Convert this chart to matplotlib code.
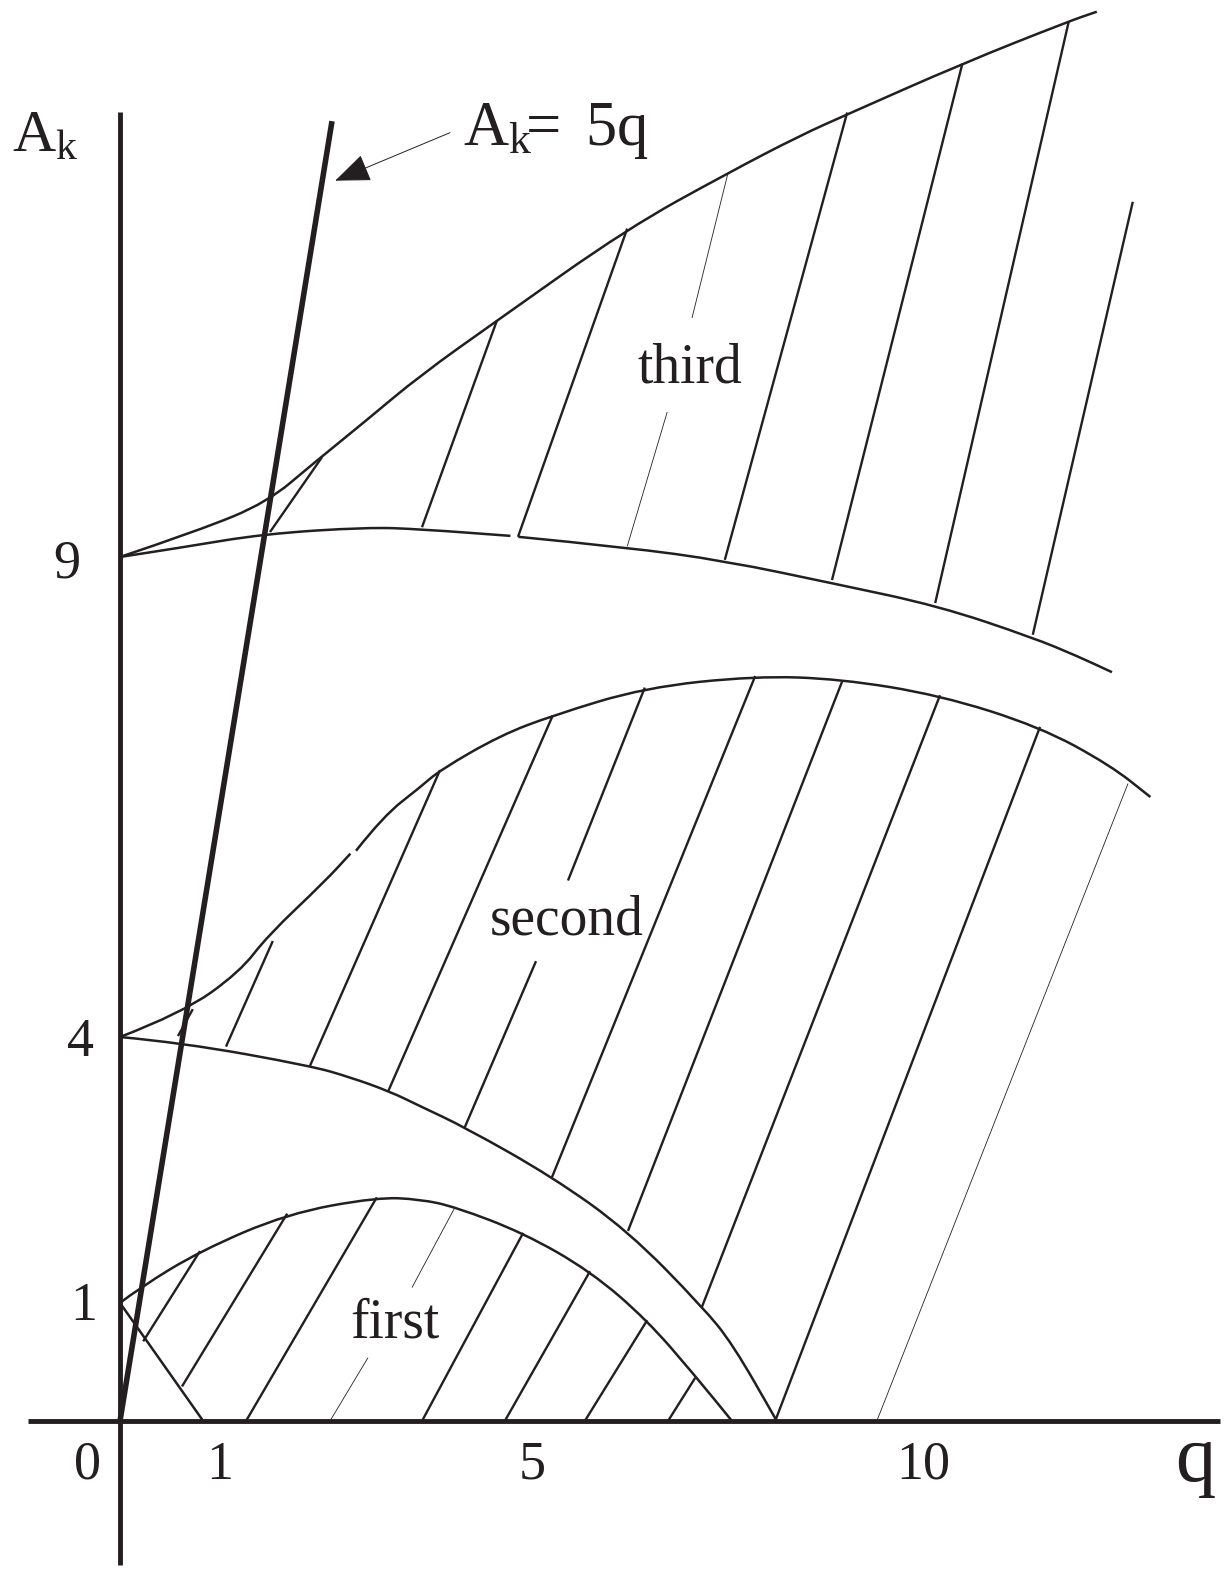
import matplotlib
matplotlib.use("Agg")
import matplotlib.pyplot as plt
from matplotlib.collections import LineCollection
from matplotlib.path import Path
from matplotlib.patches import PathPatch

plt.rcParams['font.family'] = ['Liberation Serif', 'DejaVu Serif']
plt.rcParams['mathtext.fontset'] = 'custom'
plt.rcParams['mathtext.rm'] = 'Liberation Serif'
plt.rcParams['mathtext.it'] = 'Liberation Serif:italic'

INK = '#231f20'

# boundary curves (q, A_k)
third_upper_q = [0, 1.0, 1.84, 2.41, 3.09, 3.75, 4.71, 6.34, 7.6, 8.5, 9.09, 10.53, 11.86, 12.21]
third_upper_a = [9.0, 9.28, 9.57, 9.97, 10.43, 10.89, 11.46, 12.42, 13.0, 13.39, 13.61, 14.14, 14.58, 14.68]

third_lower_q1 = [0, 0.78, 1.79, 3.09, 3.75, 4.88]
third_lower_a1 = [9.0, 9.10, 9.24, 9.31, 9.29, 9.22]
third_lower_q2 = [4.98, 6.34, 7.56, 8.94, 10.23, 11.41, 11.96, 12.4]
third_lower_a2 = [9.21, 9.10, 8.96, 8.72, 8.49, 8.16, 7.97, 7.80]

second_upper_q1 = [0, 0.78, 1.5, 1.84, 2.56, 2.88]
second_upper_a1 = [4.0, 4.25, 4.68, 5.05, 5.62, 5.91]
second_upper_q2 = [2.95, 3.29, 3.75, 4.0, 4.75, 5.41, 6.56, 7.94, 9.0, 10.25, 11.5, 12.38, 12.88]
second_upper_a2 = [5.94, 6.30, 6.60, 6.78, 7.14, 7.35, 7.64, 7.76, 7.73, 7.56, 7.23, 6.83, 6.50]

second_lower_q = [0, 0.78, 2.38, 2.88, 3.38, 3.75, 4.31, 5.41, 6.35, 7.28, 7.66, 8.21]
second_lower_a = [4.0, 3.94, 3.70, 3.58, 3.43, 3.28, 3.06, 2.54, 1.98, 1.19, 0.80, 0.0]

first_upper_q = [0, 0.25, 1.0, 2.09, 3.21, 3.75, 4.19, 5.04, 5.88, 6.59, 7.19, 7.65]
first_upper_a = [1.23, 1.39, 1.77, 2.16, 2.33, 2.31, 2.23, 1.96, 1.56, 1.05, 0.47, 0.0]
first_lower_q = [0, 1.04]
first_lower_a = [1.23, 0.0]

# A_k = 5q line
ak_line_q = [0, 2.65]
ak_line_a = [0, 13.54]

# hatch strokes (q_top, a_top, q_bottom, a_bottom)
third_hatch = [(2.525, 10.04, 1.875, 9.26), (4.71, 11.46, 3.775, 9.31), (6.34, 12.42, 4.975, 9.21),
               (9.09, 13.63, 7.56, 8.97), (10.53, 14.14, 8.9, 8.76), (11.86, 14.58, 10.19, 8.52),
               (12.66, 12.70, 11.41, 8.19)]
third_thin = [(7.6, 13.0, 7.15, 11.49), (6.84, 10.51, 6.34, 9.11)]
second_hatch = [(0.91, 4.29, 0.725, 4.01), (1.91, 5.0, 1.325, 3.90), (4.0, 6.78, 2.375, 3.70),
                (5.41, 7.35, 3.35, 3.43), (6.56, 7.64, 5.6, 5.63), (5.2, 4.79, 4.31, 3.06),
                (7.94, 7.76, 5.4, 2.54), (9.025, 7.70, 6.35, 1.98), (10.25, 7.56, 7.275, 1.19),
                (11.5, 7.23, 8.19, 0.0)]
second_thin = [(12.6, 6.64, 9.46, 0.0)]
first_hatch = [(1.0, 1.77, 0.29, 0.83), (2.09, 2.16, 0.775, 0.36), (3.21, 2.33, 1.575, 0.0),
               (5.04, 1.96, 3.775, 0.0), (5.875, 1.56, 4.81, 0.0), (6.59, 1.05, 5.81, 0.0),
               (7.19, 0.45, 6.85, 0.0)]
first_thin = [(4.19, 2.23, 3.65, 1.39), (3.1, 0.66, 2.625, 0.0)]

# labels
q_tick_labels = ['0', '1', '5', '10']
q_tick_pos = [-0.41, 1.25, 5.15, 10.04]
a_tick_labels = ['1', '4', '9']
a_tick_pos = [1.05, 3.80, 8.79]
a_tick_q = [-0.45, -0.5, -0.66]
region_names = ['first', 'second', 'third']
region_q = [3.43, 5.58, 7.125]
region_a = [0.875, 5.07, 10.82]


def smooth_curve(ax, qs, aa, lw=1.8):
    # quadratic bezier through midpoints, read points act as control points
    verts = [(qs[0], aa[0])]
    codes = [Path.MOVETO]
    for i in range(1, len(qs) - 1):
        verts += [(qs[i], aa[i]), ((qs[i] + qs[i + 1]) / 2, (aa[i] + aa[i + 1]) / 2)]
        codes += [Path.CURVE3, Path.CURVE3]
    verts.append((qs[-1], aa[-1]))
    codes.append(Path.LINETO)
    ax.add_patch(PathPatch(Path(verts, codes), fill=False, edgecolor=INK, lw=lw,
                           capstyle='butt', joinstyle='round'))


fig = plt.figure(figsize=(12.24, 15.70), dpi=100)
ax = fig.add_axes([0, 0, 1, 1])
ax.set_xlim(-1.5, 13.8)
ax.set_ylim(-1.552, 14.802)
ax.axis('off')

# axes
ax.plot([-1.15, 13.75], [0, 0], color=INK, lw=3.5, solid_capstyle='butt')
ax.plot([0, 0], [-1.5, 13.64], color=INK, lw=3.5, solid_capstyle='butt')
ax.plot(ak_line_q, ak_line_a, color=INK, lw=4.0, solid_capstyle='butt')

smooth_curve(ax, third_upper_q, third_upper_a)
smooth_curve(ax, third_lower_q1, third_lower_a1)
smooth_curve(ax, third_lower_q2, third_lower_a2)
smooth_curve(ax, second_upper_q1, second_upper_a1)
smooth_curve(ax, second_upper_q2, second_upper_a2)
smooth_curve(ax, second_lower_q, second_lower_a)
smooth_curve(ax, first_upper_q, first_upper_a)
ax.plot(first_lower_q, first_lower_a, color=INK, lw=1.8, solid_capstyle='butt')

thick = third_hatch + second_hatch + first_hatch
thin = third_thin + second_thin + first_thin
ax.add_collection(LineCollection([[(a, b), (c, d)] for a, b, c, d in thick],
                                 colors=INK, linewidths=1.7, capstyle='butt'))
ax.add_collection(LineCollection([[(a, b), (c, d)] for a, b, c, d in thin],
                                 colors=INK, linewidths=0.6, capstyle='butt'))

# arrow + equation
ax.annotate('', xy=(2.69, 12.92), xytext=(4.125, 13.42),
            arrowprops=dict(arrowstyle='-|>,head_length=0.45,head_width=0.18',
                            mutation_scale=50, color=INK, lw=0.7,
                            shrinkA=0, shrinkB=0))
ax.text(4.29, 13.29, r'$\mathrm{A}_{\mathrm{k}}\!\!=\ \mathrm{5q}$', fontsize=45,
        color=INK, ha='left', va='baseline')
ax.text(-1.35, 13.22, r'$\mathrm{A}_{\mathrm{k}}$', fontsize=43,
        color=INK, ha='left', va='baseline')

for lab, q in zip(q_tick_labels, q_tick_pos):
    ax.text(q, -0.6, lab, fontsize=39, color=INK, ha='center', va='baseline')
for lab, q, a in zip(a_tick_labels, a_tick_q, a_tick_pos):
    ax.text(q, a, lab, fontsize=39, color=INK, ha='center', va='baseline')
ax.text(13.44, -0.625, 'q', fontsize=58, color=INK, ha='center', va='baseline')

for name, q, a in zip(region_names, region_q, region_a):
    ax.text(q, a, name, fontsize=40, color=INK, ha='center', va='baseline')

fig.savefig('out.png', dpi=100)
